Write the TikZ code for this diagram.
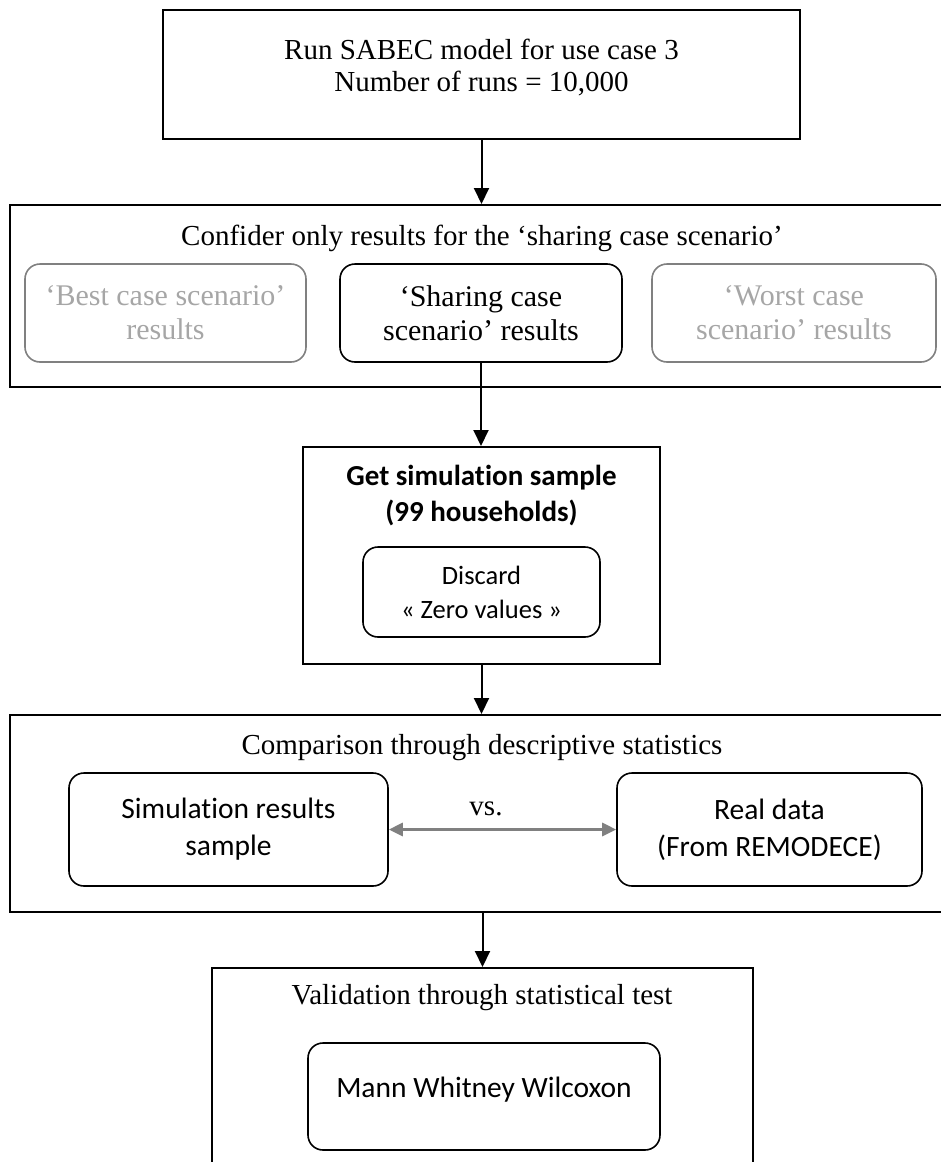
\documentclass[tikz,border=0pt]{standalone}
\usepackage{fontspec}
\setmainfont{Liberation Serif}
\newfontfamily\calibrifont[Ligatures=NoCommon]{Carlito}
\usetikzlibrary{arrows.meta,positioning}
\definecolor{lightline}{HTML}{808080}
\definecolor{lighttext}{HTML}{A6A6A6}

\begin{document}
\begin{tikzpicture}[x=1pt, y=-1pt,
        frame/.style={draw, line width=2pt, inner sep=0pt, align=center},
        heading/.style={align=center, font=\fontsize{29}{32}\selectfont},
        option/.style={draw, rounded corners=15pt, line width=1.6pt, inner sep=0pt, align=center, font=\fontsize{30}{34}\selectfont},
        faded/.style={option, draw=lightline, text=lighttext},
        tool/.style={draw, rounded corners=15pt, line width=1.6pt, inner sep=0pt, align=center, font=\calibrifont\fontsize{29.5}{37}\selectfont},
        flow/.style={line width=2pt, -{Triangle[width=15pt, length=16pt]}},
        versus/.style={line width=3pt, draw=lightline, {Triangle[width=13pt, length=14pt]}-{Triangle[width=13pt, length=14pt]}}
    ]
    \useasboundingbox (0,0) rectangle (941,1162);
    % Run model
    \node[frame, heading, minimum width=637pt, minimum height=129pt] (run) at (481.5,74.5) {};
    \node[heading] (runtext) at (481.5,68) {Run SABEC model for use case 3\\Number of runs = 10,000};
    % Scenario selection
    \node[frame, minimum width=940pt, minimum height=182pt] (confider) at (480,296) {};
    \node[heading] (confidertitle) at (482,238) {Confider only results for the ‘sharing case scenario’};
    \node[faded, minimum width=281pt, minimum height=98pt] (best) at (165.5,313) {‘Best case scenario’\\results};
    \node[option, minimum width=282pt, minimum height=98pt] (sharing) at (481,313) {‘Sharing case\\scenario’ results};
    \node[faded, minimum width=284pt, minimum height=98pt] (worst) at (794,313) {‘Worst case\\scenario’ results};
    % Simulation sample
    \node[frame, minimum width=357pt, minimum height=217pt] (sample) at (481.5,555.5) {};
    \node[align=center, font=\calibrifont\bfseries\fontsize{29}{36}\selectfont] (sampletitle) at (481.5,496) {Get simulation sample\\(99 households)};
    \node[tool, font=\calibrifont\fontsize{26.5}{34}\selectfont, minimum width=237pt, minimum height=90pt] (discard) at (481.5,592) {Discard\\« Zero values »};
    % Descriptive comparison
    \node[frame, minimum width=940pt, minimum height=197pt] (compare) at (480,813.5) {};
    \node[heading] (comparetitle) at (482,748) {Comparison through descriptive statistics};
    \node[tool, minimum width=319pt, minimum height=113pt] (simres) at (228.5,829.5) {Simulation results\\sample};
    \node[tool, minimum width=305pt, minimum height=113pt] (realdata) at (769.5,829.5) {Real data\\(From REMODECE)};
    \node[heading] (vs) at (486,809) {vs.};
    % Statistical test
    \node[frame, minimum width=541pt, minimum height=207pt] (validate) at (482.5,1071.5) {};
    \node[heading] (validatetitle) at (482,998) {Validation through statistical test};
    \node[tool, text depth=18pt, minimum width=352pt, minimum height=107pt] (mww) at (484,1096.5) {Mann Whitney Wilcoxon};

    \draw[flow] (run.south) -- (run.south |- confider.north);
    \draw[flow] (sharing.south) -- (sharing.south |- sample.north);
    \draw[flow] (sample.south) -- (sample.south |- compare.north);
    \draw[flow] (validate.north |- compare.south) -- (validate.north);
    \draw[versus] (simres.east) -- (realdata.west);
\end{tikzpicture}
\end{document}
